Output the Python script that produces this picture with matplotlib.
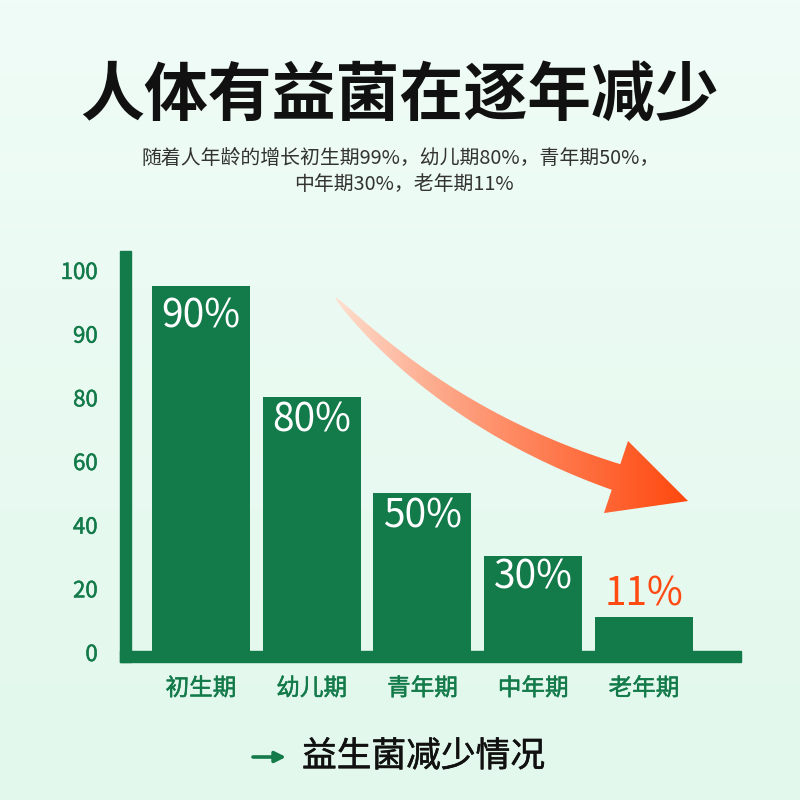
import numpy as np
import matplotlib
matplotlib.use("Agg")
import matplotlib.pyplot as plt
import matplotlib.patheffects as pe
from matplotlib.patches import Rectangle, Polygon
from matplotlib.scale import FuncScale

plt.rcParams['font.family'] = ['Noto Sans CJK SC', 'DejaVu Sans']

# ---------------- data ----------------
categories = ["初生期", "幼儿期", "青年期", "中年期", "老年期"]
values = [97.5, 80, 50, 30, 11]
value_labels = ["90%", "80%", "50%", "30%", "11%"]
ytick_values = [0, 20, 40, 60, 80, 90, 100]
ytick_labels = ["0", "20", "40", "60", "80", "90", "100"]
title = "人体有益菌在逐年减少"
subtitle_1 = "随着人年龄的增长初生期99%，幼儿期80%，青年期50%，"
subtitle_2 = "中年期30%，老年期11%"
footer = "益生菌减少情况"

GREEN = "#137a4a"
ORANGE = "#ff4a12"

W, H = 800, 800
fig = plt.figure(figsize=(8, 8), dpi=100)

# ---------------- background gradient ----------------
bg = fig.add_axes([0, 0, 1, 1], zorder=-10)
top_c = np.array([240, 252, 247]) / 255
bot_c = np.array([226, 248, 236]) / 255
g = np.linspace(0, 1, 256)[:, None]
img = top_c[None, None, :] * (1 - g[..., None]) + bot_c[None, None, :] * g[..., None]
img = np.repeat(img, 4, axis=1)
bg.imshow(img, aspect='auto', extent=[0, 1, 0, 1], origin='upper')
bg.set_axis_off()

# ---------------- main axes ----------------
def px_rect(l, r, t, b):
    return [l / W, 1 - b / H, (r - l) / W, (b - t) / H]

ax = fig.add_axes(px_rect(120, 741, 251, 662))
ax.patch.set_alpha(0)

bp_v = np.array(ytick_values, float)
bp_p = np.arange(len(bp_v), dtype=float)

def fwd(v):
    v = np.asarray(v, float)
    return np.where(v < 0, v / 20.0,
                    np.where(v > 100, 6 + (v - 100) / 10.0, np.interp(v, bp_v, bp_p)))

def inv(p):
    p = np.asarray(p, float)
    return np.where(p < 0, p * 20.0,
                    np.where(p > 6, 100 + (p - 6) * 10.0, np.interp(p, bp_p, bp_v)))

ax.set_yscale(FuncScale(ax, (fwd, inv)))
x = np.arange(len(categories))
ax.bar(x, values, width=0.885, color=GREEN, zorder=2)
ax.set_xlim(-0.731, 4.876)
ax.set_ylim(-3.14, 102.98)

for s in ax.spines.values():
    s.set_visible(False)
ax.add_patch(Rectangle((0, 0), 11 / 621, 1, transform=ax.transAxes,
                       color=GREEN, clip_on=False, zorder=3))
ax.add_patch(Rectangle((0, 0), 1, 11 / 411, transform=ax.transAxes,
                       color=GREEN, clip_on=False, zorder=3))

medium_green = [pe.Stroke(linewidth=0.35, foreground=GREEN), pe.Normal()]

ax.set_yticks(ytick_values)
ax.set_yticklabels(ytick_labels)
ax.yaxis.set_minor_locator(matplotlib.ticker.NullLocator())
ax.tick_params(axis='y', length=0, pad=16, labelcolor=GREEN, labelsize=16)
for t in ax.get_yticklabels():
    t.set_path_effects(medium_green)
ax.set_xticks(x)
ax.set_xticklabels(categories)
ax.tick_params(axis='x', length=0, pad=11, labelcolor=GREEN, labelsize=17)
for t in ax.get_xticklabels():
    t.set_path_effects(medium_green)

label_offsets_px = [-31, -23, -24, -21, 22]
for xi, v, lab, off in zip(x, values, value_labels, label_offsets_px):
    col = "white" if off < 0 else ORANGE
    ax.annotate(lab, (xi, v), xytext=(0, off * 0.72), textcoords='offset points',
                ha='center', va='center', color=col, fontsize=28, zorder=4)

# ---------------- curved gradient arrow (decoration) ----------------
ov = fig.add_axes([0, 0, 1, 1], zorder=5)
ov.set_xlim(0, W)
ov.set_ylim(H, 0)
ov.set_axis_off()
ov.patch.set_alpha(0)

P0 = np.array([335.0, 297.0])
P1 = np.array([448.0, 421.0])
P2 = np.array([616.0, 477.0])
tt = np.linspace(0, 1, 80)
C = ((1 - tt) ** 2)[:, None] * P0 + (2 * (1 - tt) * tt)[:, None] * P1 + (tt ** 2)[:, None] * P2
D = (2 * (1 - tt))[:, None] * (P1 - P0) + (2 * tt)[:, None] * (P2 - P1)
D = D / np.linalg.norm(D, axis=1)[:, None]
N = np.stack([-D[:, 1], D[:, 0]], axis=1)
wid = 27 * tt ** 0.55
sideA = C + N * (wid / 2)[:, None]
sideB = C - N * (wid / 2)[:, None]
d_end = D[-1]
n_end = N[-1]
tip = P2 + d_end * 76
barbA = P2 + n_end * 38
barbB = P2 - n_end * 38
verts = np.vstack([sideA, barbA, tip, barbB, sideB[::-1]])
poly = Polygon(verts, closed=True, facecolor='none', edgecolor='none',
               transform=ov.transData)
ov.add_patch(poly)

gx = np.linspace(0, 1, 400)
s = np.clip((gx * W - 335) / (690 - 335), 0, 1) ** 0.8
c0 = np.array([253, 228, 214]) / 255
c1 = np.array([255, 72, 14]) / 255
grad = c0[None, :] * (1 - s[:, None]) + c1[None, :] * s[:, None]
grad_img = np.repeat(grad[None, :, :], 4, axis=0)
im = ov.imshow(grad_img, extent=[0, W, H, 0], aspect='auto', zorder=1)
im.set_clip_path(poly)
ov.set_xlim(0, W)
ov.set_ylim(H, 0)

# footer arrow
ov.annotate('', xy=(286, 757), xytext=(253, 757),
            arrowprops=dict(arrowstyle='-|>', lw=2.6, color=GREEN,
                            mutation_scale=16, shrinkA=0, shrinkB=0))

# ---------------- texts ----------------
fig.text(400 / W, 1 - 96 / H, title, ha='center', va='center',
         fontsize=46, fontweight='bold', color='#111111')
fig.text(401 / W, 1 - 158 / H, subtitle_1, ha='center', va='center',
         fontsize=14.3, color='#333333')
fig.text(404 / W, 1 - 185 / H, subtitle_2, ha='center', va='center',
         fontsize=14.3, color='#333333')
fig.text(302 / W, 1 - 757 / H, footer, ha='left', va='center',
         fontsize=25, color='#111111',
         path_effects=[pe.Stroke(linewidth=0.4, foreground='#111111'), pe.Normal()])

fig.savefig("out.png", dpi=100)
